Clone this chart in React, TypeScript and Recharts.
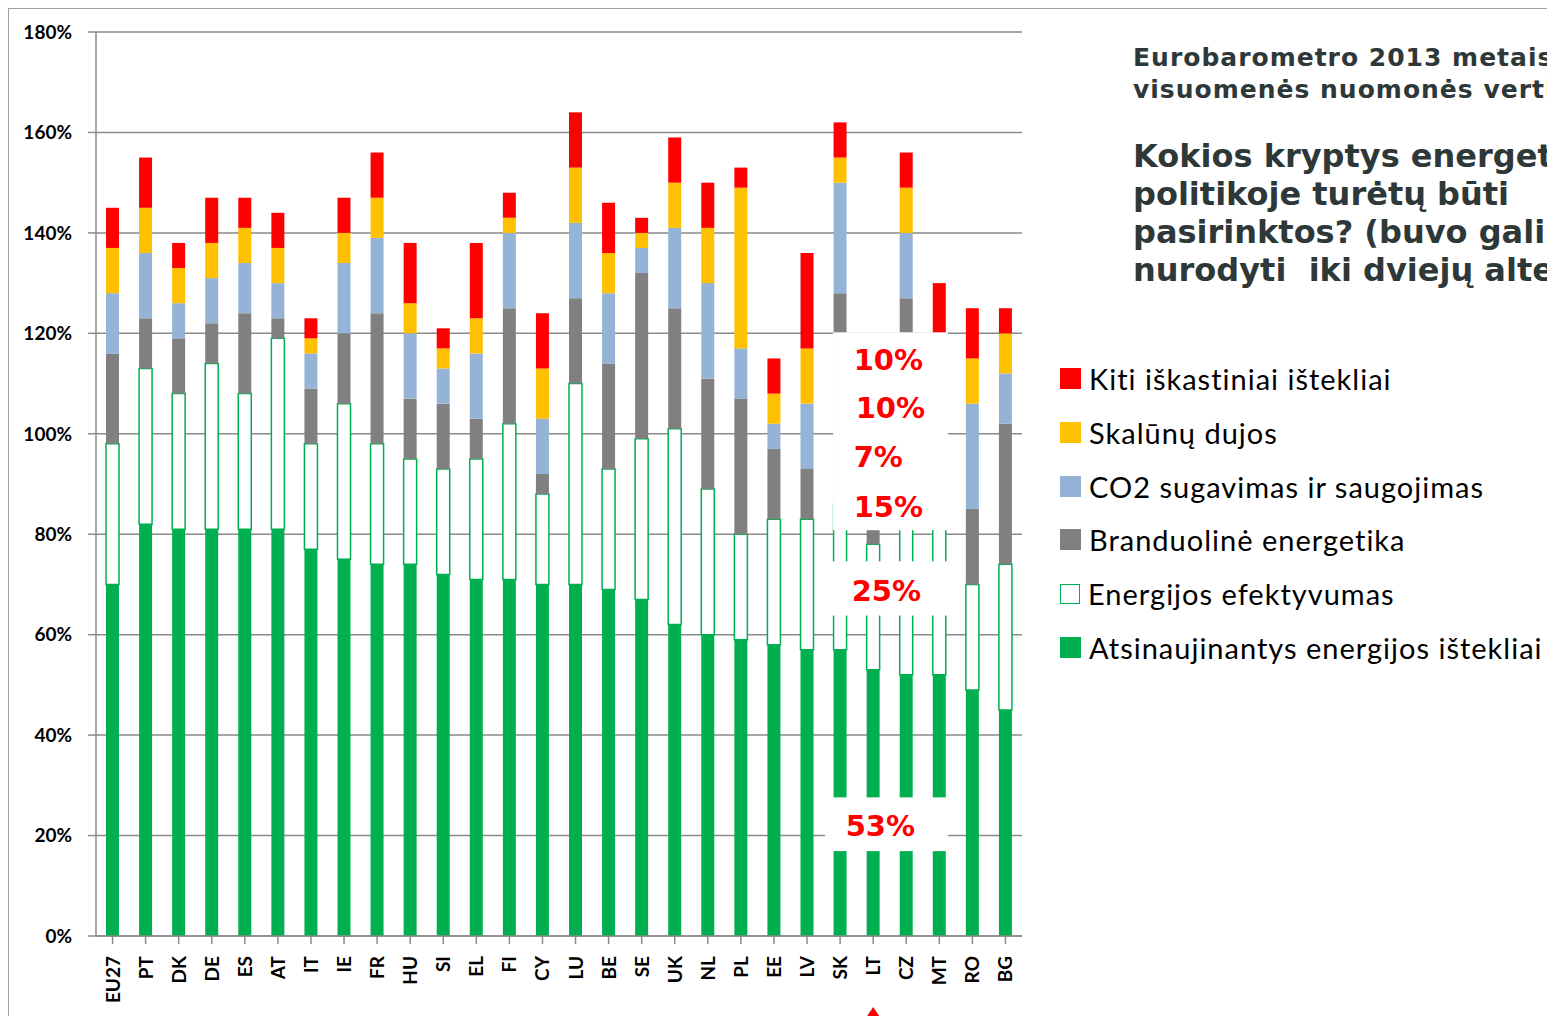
import React from "react";
import { BarChart, Bar, XAxis, YAxis, CartesianGrid, ReferenceArea } from "recharts";

const countries = ["EU27", "PT", "DK", "DE", "ES", "AT", "IT", "IE", "FR", "HU", "SI", "EL", "FI", "CY", "LU", "BE", "SE", "UK", "NL", "PL", "EE", "LV", "SK", "LT", "CZ", "MT", "RO", "BG"];
const renewables = [70, 82, 81, 81, 81, 81, 77, 75, 74, 74, 72, 71, 71, 70, 70, 69, 67, 62, 60, 59, 58, 57, 57, 53, 52, 52, 49, 45];
const efficiency = [28, 31, 27, 33, 27, 38, 21, 31, 24, 21, 21, 24, 31, 18, 40, 24, 32, 39, 29, 21, 25, 26, 29, 25, 30, 36, 21, 29];
const nuclear = [18, 10, 11, 8, 16, 4, 11, 14, 26, 12, 13, 8, 23, 4, 17, 21, 33, 24, 22, 27, 14, 10, 42, 15, 45, 9, 15, 28];
const ccs = [12, 13, 7, 9, 10, 7, 7, 14, 15, 13, 7, 13, 15, 11, 15, 14, 5, 16, 19, 10, 5, 13, 22, 7, 13, 11, 21, 10];
const shale = [9, 9, 7, 7, 7, 7, 3, 6, 8, 6, 4, 7, 3, 10, 11, 8, 3, 9, 11, 32, 6, 11, 5, 10, 9, 10, 9, 8];
const otherFossil = [8, 10, 5, 9, 6, 7, 4, 7, 9, 12, 4, 15, 5, 11, 11, 10, 3, 9, 9, 4, 7, 19, 7, 10, 7, 12, 10, 5];

const yTicks = [0, 20, 40, 60, 80, 100, 120, 140, 160, 180];

const seriesNames = {
  renewables: "Atsinaujinantys energijos ištekliai",
  efficiency: "Energijos efektyvumas",
  nuclear: "Branduolinė energetika",
  ccs: "CO2 sugavimas ir saugojimas",
  shale: "Skalūnų dujos",
  otherFossil: "Kiti iškastiniai ištekliai",
};

const titleLines = ["Eurobarometro 2013 metais atlikto", "visuomenės nuomonės vertinimo rezultatai"];
const questionLines = ["Kokios kryptys energetikos", "politikoje turėtų būti", "pasirinktos? (buvo galima", "nurodyti  iki dviejų alternatyvų)"];

const highlight = "LT";

const rows = countries.map((country, i) => ({
  country,
  renewables: renewables[i],
  efficiency: efficiency[i],
  nuclear: nuclear[i],
  ccs: ccs[i],
  shale: shale[i],
  otherFossil: otherFossil[i],
}));

const COLORS = {
  renewables: "#00b050",
  efficiency: "#ffffff",
  nuclear: "#808080",
  ccs: "#95b3d7",
  shale: "#ffc000",
  otherFossil: "#ff0000",
};

const GRID = "#8a8a8a";
const tickFont = { fontFamily: "Lato, sans-serif", fontWeight: 700, fontSize: 19, fill: "#000" };

const CountryTick = (props: any) => {
  const { x, y, payload } = props;
  return (
    <g transform={`translate(${x},${y})`}>
      <text transform="rotate(-90)" x={0} y={0} dy={7} textAnchor="end" {...tickFont}>
        {payload.value}
      </text>
      {payload.value === highlight && <polygon points="0,51 -10,66 10,66" fill="#ff0000" />}
    </g>
  );
};

// white text boxes over the highlighted country, with its shares as labels
const whiteBox = (left: number, right: number) => (p: any) =>
  <rect x={p.x + left} y={p.y} width={p.width - left - right} height={p.height} fill="#fff" />;

const hlIdx = countries.indexOf(highlight);
const boxLabels = [
  { key: "otherFossil", at: 114.7, nudge: -3 },
  { key: "shale", at: 105.1, nudge: -1 },
  { key: "ccs", at: 95.4, nudge: -3 },
  { key: "nuclear", at: 85.4, nudge: -3 },
  { key: "efficiency", at: 68.8, nudge: -5 },
  { key: "renewables", at: 21.9, nudge: -11 },
];
const seriesValues: Record<string, number[]> = { renewables, efficiency, nuclear, ccs, shale, otherFossil };

const legendOrder = ["otherFossil", "shale", "ccs", "nuclear", "efficiency", "renewables"];

export default function App() {
  return (
    <div style={{ position: "fixed", left: 0, top: 0, width: 1547, height: 1016, overflow: "hidden", background: "#fff" }}>
      <div style={{ position: "absolute", left: 8, top: 8, width: 2000, height: 2000, borderLeft: "1.5px solid #a0a0a0", borderTop: "1.5px solid #a0a0a0" }} />

      <div style={{ position: "absolute", left: 0, top: 0 }}>
        <BarChart width={1030} height={1016} data={rows} margin={{ top: 32, right: 8, left: 0, bottom: 0 }}>
          <CartesianGrid vertical={false} stroke={GRID} strokeWidth={1.5} />
          <XAxis
            dataKey="country"
            interval={0}
            height={80}
            tickSize={8}
            tickMargin={12}
            tick={<CountryTick />}
            axisLine={{ stroke: GRID, strokeWidth: 1.5 }}
            tickLine={{ stroke: GRID, strokeWidth: 1.5 }}
          />
          <YAxis
            width={96}
            domain={[0, 180]}
            ticks={yTicks}
            interval={0}
            tickSize={8}
            tickMargin={16}
            tickFormatter={(v) => `${v}%`}
            tick={tickFont}
            axisLine={{ stroke: GRID, strokeWidth: 1.5 }}
            tickLine={{ stroke: GRID, strokeWidth: 1.5 }}
          />
          <Bar dataKey="renewables" name={seriesNames.renewables} stackId="s" barSize={13} fill={COLORS.renewables} isAnimationActive={false} />
          <Bar dataKey="efficiency" name={seriesNames.efficiency} stackId="s" barSize={13} fill={COLORS.efficiency} stroke="#00b050" strokeWidth={1.5} isAnimationActive={false} />
          <Bar dataKey="nuclear" name={seriesNames.nuclear} stackId="s" barSize={13} fill={COLORS.nuclear} isAnimationActive={false} />
          <Bar dataKey="ccs" name={seriesNames.ccs} stackId="s" barSize={13} fill={COLORS.ccs} isAnimationActive={false} />
          <Bar dataKey="shale" name={seriesNames.shale} stackId="s" barSize={13} fill={COLORS.shale} isAnimationActive={false} />
          <Bar dataKey="otherFossil" name={seriesNames.otherFossil} stackId="s" barSize={13} fill={COLORS.otherFossil} isAnimationActive={false} />

          <ReferenceArea x1="SK" x2="MT" y1={80.8} y2={120.2} zIndex={700} shape={whiteBox(9.5, 8)} />
          <ReferenceArea x1="SK" x2="MT" y1={63.8} y2={74.6} zIndex={700} shape={whiteBox(0, 8)} />
          <ReferenceArea x1="SK" x2="MT" y1={16.9} y2={27.6} zIndex={700} shape={whiteBox(1.5, 8)} />

          {boxLabels.map((b) => (
            <ReferenceArea
              key={b.key}
              x1={highlight}
              x2="CZ"
              y1={b.at - 4}
              y2={b.at + 4}
              zIndex={800}
              fillOpacity={0}
              strokeOpacity={0}
              label={{
                value: `${seriesValues[b.key][hlIdx]}%`,
                position: "insideLeft",
                offset: b.nudge,
                fill: "#ff0000",
                fontFamily: "DejaVu Sans, sans-serif",
                fontWeight: 700,
                fontSize: 29,
              }}
            />
          ))}
        </BarChart>
      </div>

      <div style={{ position: "absolute", left: 1133, top: 42, fontFamily: "DejaVu Sans, sans-serif", fontWeight: 700, fontSize: 25, lineHeight: "32px", letterSpacing: 1, color: "#2e3838", whiteSpace: "pre" }}>
        {titleLines.map((l) => (
          <div key={l}>{l}</div>
        ))}
      </div>
      <div style={{ position: "absolute", left: 1133, top: 137, fontFamily: "DejaVu Sans, sans-serif", fontWeight: 700, fontSize: 32, lineHeight: "38px", color: "#2e3838", whiteSpace: "pre" }}>
        {questionLines.map((l) => (
          <div key={l}>{l}</div>
        ))}
      </div>

      <div style={{ position: "absolute", left: 1060, top: 352, fontFamily: "Lato, sans-serif", fontSize: 29, letterSpacing: 1, color: "#000" }}>
        {legendOrder.map((k) => (
          <div key={k} style={{ height: 53.7, display: "flex", alignItems: "center", whiteSpace: "nowrap" }}>
            <span
              style={{
                display: "inline-block",
                width: k === "efficiency" ? 18 : 21,
                height: k === "efficiency" ? 18 : 21,
                background: (COLORS as any)[k],
                border: k === "efficiency" ? "1.5px solid #00b050" : "none",
                marginRight: 8,
                flexShrink: 0,
              }}
            />
            <span>{(seriesNames as any)[k]}</span>
          </div>
        ))}
      </div>
    </div>
  );
}
